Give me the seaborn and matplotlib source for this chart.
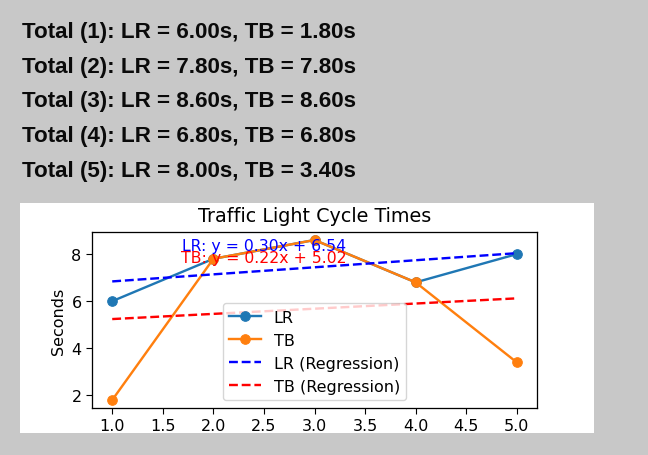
from matplotlib import pyplot as plt
from matplotlib.patches import Rectangle
import seaborn as sns
import numpy as np

# cycle number and measured times (seconds)
cycles = np.array([1, 2, 3, 4, 5])
lr_times = np.array([6.0, 7.8, 8.6, 6.8, 8.0])
tb_times = np.array([1.8, 7.8, 8.6, 6.8, 3.4])

W, H = 648, 456
k = 1.15  # the chart panel in the reference is slightly enlarged

plt.rcParams.update({
	'font.size': 10 * k,
	'axes.titlesize': 12 * k,
	'lines.linewidth': 1.5 * k,
	'xtick.major.size': 3.5 * k,
	'ytick.major.size': 3.5 * k,
	'axes.linewidth': 0.8 * k,
})


def fx(px):
	return px / W


def fy(py):
	return 1 - py / H


fig = plt.figure(figsize=(W / 100, H / 100), dpi=100, facecolor='#c8c8c8')

# summary lines above the chart
for i, (lr, tb) in enumerate(zip(lr_times, tb_times)):
	fig.text(fx(22), fy(38 + i * 34.75), f"Total ({i + 1}): LR = {lr:.2f}s, TB = {tb:.2f}s",
		fontfamily='Liberation Sans', fontweight='bold', fontsize=16.1,
		va='baseline', ha='left', color='#0a0a0a')

# white panel that holds the plot
fig.patches.append(Rectangle((fx(20), fy(434)), 574 / W, 230 / H,
	transform=fig.transFigure, facecolor='white', edgecolor='none', zorder=-1))

ax = fig.add_axes([fx(92), fy(409), 445 / W, 176 / H])

sns.lineplot(x=cycles, y=lr_times, marker='o', color='tab:blue', label='LR',
	markeredgecolor='tab:blue', markersize=6 * k, ax=ax)
sns.lineplot(x=cycles, y=tb_times, marker='o', color='tab:orange', label='TB',
	markeredgecolor='tab:orange', markersize=6 * k, ax=ax)

sns.regplot(x=cycles, y=lr_times, scatter=False, ci=None, ax=ax, label='LR (Regression)',
	line_kws=dict(color='blue', ls='--', lw=1.5 * k))
sns.regplot(x=cycles, y=tb_times, scatter=False, ci=None, ax=ax, label='TB (Regression)',
	line_kws=dict(color='red', ls='--', lw=1.5 * k))

lr_m, lr_b = np.polyfit(cycles, lr_times, 1)
tb_m, tb_b = np.polyfit(cycles, tb_times, 1)
top = max(lr_times.max(), tb_times.max())
mid = cycles.mean() - 0.5
ax.text(mid, top - 0.23, f"LR: y = {lr_m:.2f}x + {lr_b:.2f}", color='blue',
	fontsize=11.3, ha='center', va='center')
ax.text(mid, top - 0.76, f"TB: y = {tb_m:.2f}x + {tb_b:.2f}", color='red',
	fontsize=11.3, ha='center', va='center')

ax.set_title("Traffic Light Cycle Times", pad=8)
ax.set_ylabel("Seconds")
ax.set_xlabel("")
ax.margins(x=0.05, y=0.05)
ax.legend(loc='lower center')

fig.savefig("out.png", dpi=100, facecolor=fig.get_facecolor())
